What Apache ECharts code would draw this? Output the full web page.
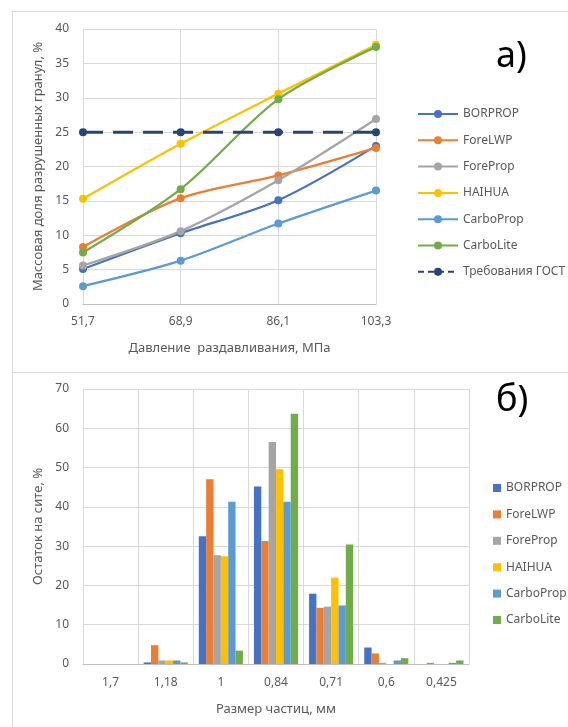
<!DOCTYPE html>
<html>
<head>
<meta charset="utf-8">
<script src="https://cdn.jsdelivr.net/npm/echarts@6/dist/echarts.min.js"></script>
<style>
html,body{margin:0;padding:0;background:#fff;}
#chart{width:568px;height:727px;}
</style>
</head>
<body>
<div id="chart"></div>
<script>
// ---- Panel a) data ----
var pressures = ['51,7', '68,9', '86,1', '103,3'];
var lineNames = ['BORPROP', 'ForeLWP', 'ForeProp', 'HAIHUA', 'CarboProp', 'CarboLite'];
var borpropA   = [5.1, 10.3, 15.1, 23.0];
var forelwpA   = [8.3, 15.4, 18.7, 22.7];
var forepropA  = [5.6, 10.6, 18.0, 26.9];
var haihuaA    = [15.3, 23.3, 30.6, 37.7];
var carbopropA = [2.6, 6.3, 11.7, 16.5];
var carboliteA = [7.5, 16.7, 29.8, 37.4];
var gostName = 'Требования ГОСТ';
var gostA = [25, 25, 25, 25];

// ---- Panel б) data ----
var sizes = ['1,7', '1,18', '1', '0,84', '0,71', '0,6', '0,425'];
var borpropB   = [0, 0.4, 32.5, 45.2, 17.9, 4.2, 0];
var forelwpB   = [0, 4.8, 47.0, 31.3, 14.3, 2.7, 0.3];
var forepropB  = [0, 0.9, 27.7, 56.5, 14.6, 0.3, 0];
var haihuaB    = [0, 0.9, 27.4, 49.6, 22.0, 0, 0];
var carbopropB = [0, 0.9, 41.3, 41.3, 14.9, 0.9, 0.3];
var carboliteB = [0, 0.4, 3.4, 63.7, 30.4, 1.5, 0.9];

var colors = ['#4472C4', '#ED7D31', '#A5A5A5', '#FFC000', '#5B9BD5', '#70AD47'];
var gostColor = '#264478';
var FONT = 'Noto Sans';
var TXT = '#595959';
var GRID = '#d9d9d9';

var lineData = [borpropA, forelwpA, forepropA, haihuaA, carbopropA, carboliteA];
var barData = [borpropB, forelwpB, forepropB, haihuaB, carbopropB, carboliteB];

var series = [];
lineNames.forEach(function (n, i) {
  series.push({
    name: n, type: 'line', xAxisIndex: 0, yAxisIndex: 0,
    data: lineData[i], smooth: 0.3,
    symbol: 'circle', symbolSize: 8,
    itemStyle: { color: colors[i] },
    lineStyle: { color: colors[i], width: 2.25 },
    z: 3
  });
});
series.push({
  name: gostName, type: 'line', xAxisIndex: 0, yAxisIndex: 0,
  data: gostA, symbol: 'circle', symbolSize: 8,
  itemStyle: { color: gostColor },
  lineStyle: { color: gostColor, width: 3, type: [20, 10] },
  z: 4
});
lineNames.forEach(function (n, i) {
  series.push({
    name: n, type: 'bar', xAxisIndex: 1, yAxisIndex: 1,
    data: barData[i], barGap: '0%', barCategoryGap: '20%',
    itemStyle: { color: colors[i] }
  });
});

var axisLabel = { color: TXT, fontFamily: FONT, fontSize: 12 };
var nameStyle = { color: TXT, fontFamily: FONT, fontSize: 13 };

var legendTopData = lineNames.map(function (n) { return { name: n }; });
legendTopData.push({ name: gostName, lineStyle: { type: [6, 4] } });

var option = {
  animation: false,
  backgroundColor: '#fff',
  title: [
    { text: 'а)', left: 496, top: 39, padding: 0,
      textStyle: { fontFamily: FONT, fontSize: 36, fontWeight: 'normal', color: '#000' } },
    { text: 'б)', left: 496, top: 383, padding: 0,
      textStyle: { fontFamily: FONT, fontSize: 36, fontWeight: 'normal', color: '#000' } }
  ],
  graphic: [
    { type: 'line', shape: { x1: 12, y1: 11.5, x2: 568, y2: 11.5 }, style: { stroke: GRID, lineWidth: 1 } },
    { type: 'line', shape: { x1: 12.5, y1: 11, x2: 12.5, y2: 727 }, style: { stroke: GRID, lineWidth: 1 } },
    { type: 'line', shape: { x1: 12, y1: 372.5, x2: 568, y2: 372.5 }, style: { stroke: GRID, lineWidth: 1 } }
  ],
  legend: [
    {
      data: legendTopData,
      orient: 'vertical', left: 417, top: 108, padding: 0,
      itemWidth: 40, itemHeight: 10, itemGap: 14.3,
      textStyle: { color: TXT, fontFamily: FONT, fontSize: 12 },
      selectedMode: false
    },
    {
      data: lineNames.map(function (n) { return { name: n, icon: 'rect' }; }),
      orient: 'vertical', left: 493, top: 482, padding: 0,
      itemWidth: 8, itemHeight: 8, itemGap: 14.4,
      textStyle: { color: TXT, fontFamily: FONT, fontSize: 12 },
      selectedMode: false
    }
  ],
  grid: [
    { left: 83, top: 29, width: 293, height: 275, containLabel: false },
    { left: 83, top: 389, width: 386, height: 275, containLabel: false }
  ],
  xAxis: [
    {
      type: 'category', gridIndex: 0, data: pressures, boundaryGap: false,
      axisLine: { show: true, lineStyle: { color: '#bfbfbf' } },
      axisTick: { show: false },
      axisLabel: Object.assign({ margin: 12 }, axisLabel),
      splitLine: { show: true, lineStyle: { color: GRID } },
      name: 'Давление  раздавливания, МПа', nameLocation: 'middle', nameGap: 38,
      nameTextStyle: nameStyle
    },
    {
      type: 'category', gridIndex: 1, data: sizes, boundaryGap: true,
      axisLine: { show: true, lineStyle: { color: '#bfbfbf' } },
      axisTick: { show: false },
      axisLabel: Object.assign({ margin: 13 }, axisLabel),
      splitLine: { show: true, lineStyle: { color: GRID } },
      name: 'Размер частиц, мм', nameLocation: 'middle', nameGap: 39,
      nameTextStyle: nameStyle
    }
  ],
  yAxis: [
    {
      type: 'value', gridIndex: 0, min: 0, max: 40, interval: 5,
      axisLine: { show: false }, axisTick: { show: false },
      axisLabel: Object.assign({ margin: 14 }, axisLabel),
      splitLine: { show: true, lineStyle: { color: GRID } },
      name: 'Массовая доля разрушенных гранул, %', nameLocation: 'middle', nameGap: 27,
      nameTextStyle: nameStyle
    },
    {
      type: 'value', gridIndex: 1, min: 0, max: 70, interval: 10,
      axisLine: { show: false }, axisTick: { show: false },
      axisLabel: Object.assign({ margin: 14 }, axisLabel),
      splitLine: { show: true, lineStyle: { color: GRID } },
      name: 'Остаток на сите, %', nameLocation: 'middle', nameGap: 27,
      nameTextStyle: nameStyle
    }
  ],
  series: series
};

var chart = echarts.init(document.getElementById('chart'), null, { renderer: 'canvas' });
chart.setOption(option);
</script>
</body>
</html>
